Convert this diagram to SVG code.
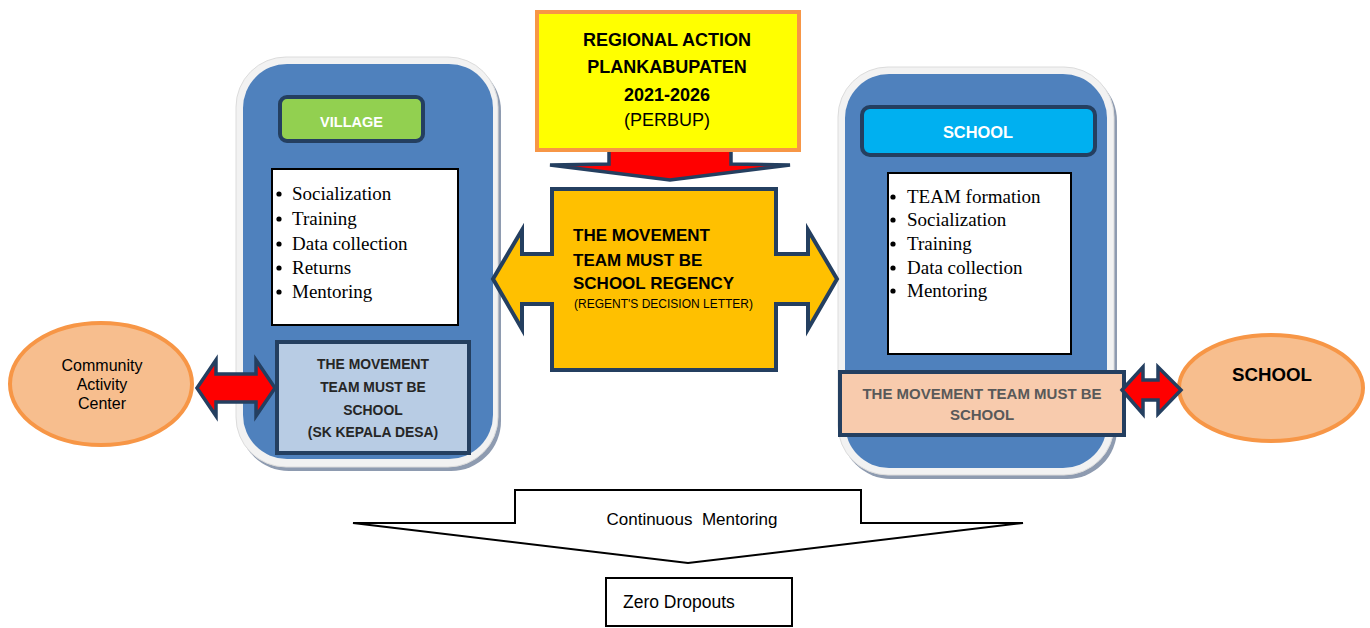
<svg xmlns="http://www.w3.org/2000/svg" width="1370" height="628" viewBox="0 0 1370 628">
  <style>
    .sans { font-family: "Liberation Sans", Arial, sans-serif; }
    .serif { font-family: "Liberation Serif", "Times New Roman", serif; font-size: 19px; fill: #000; }
    .bold { font-weight: bold; }
    .panel-shadow { fill: #8e9bb0; }
    .panel-rim { fill: #f2f2f2; stroke: #dcdcdc; stroke-width: 1; }
    .panel-body { fill: #4f81bd; }
    .navy { stroke: #243f60; stroke-width: 4; stroke-linejoin: miter; }
    .list { fill: #fff; stroke: #000; stroke-width: 2; }
    .red-arrow { fill: #ff0000; stroke: #243f60; stroke-width: 3.5; stroke-linejoin: miter; }
    .ellipse { fill: #f7be8e; stroke: #f79646; stroke-width: 4; }
    .outline { fill: #fff; stroke: #000; stroke-width: 2; }
  </style>

  <!-- Village panel -->
  <g id="village">
    <rect class="panel-shadow" x="239" y="61" width="262" height="410" rx="50"/>
    <rect class="panel-rim" x="236" y="57" width="262" height="410" rx="50"/>
    <rect class="panel-body" x="243" y="64" width="250" height="395" rx="44"/>
    <rect class="navy" x="280" y="97" width="143" height="44" rx="7" fill="#92d050"/>
    <text class="sans bold" x="351.5" y="127" font-size="14.5" fill="#fff" text-anchor="middle">VILLAGE</text>
    <rect class="list" x="272" y="169" width="186" height="156"/>
    <g class="serif">
      <circle cx="279" cy="194" r="2.6"/><text x="292" y="200">Socialization</text>
      <circle cx="279" cy="219" r="2.6"/><text x="292" y="225">Training</text>
      <circle cx="279" cy="244" r="2.6"/><text x="292" y="250">Data collection</text>
      <circle cx="279" cy="268" r="2.6"/><text x="292" y="274">Returns</text>
      <circle cx="279" cy="292" r="2.6"/><text x="292" y="298">Mentoring</text>
    </g>
  </g>

  <g id="village-team">
    <rect class="navy" x="277" y="342" width="192" height="111" fill="#b8cce4"/>
    <g class="sans bold" font-size="13.9" fill="#262626" text-anchor="middle">
      <text x="373" y="369">THE MOVEMENT</text>
      <text x="373" y="392">TEAM MUST BE</text>
      <text x="373" y="415">SCHOOL</text>
      <text x="373" y="437">(SK KEPALA DESA)</text>
    </g>
  </g>

  <!-- School panel -->
  <g id="school">
    <rect class="panel-shadow" x="841" y="71" width="276" height="408" rx="50"/>
    <rect class="panel-rim" x="838" y="67" width="276" height="408" rx="50"/>
    <rect class="panel-body" x="845" y="74" width="262" height="394" rx="44"/>
    <rect class="navy" x="862" y="107" width="233" height="48" rx="8" fill="#00b0f0"/>
    <text class="sans bold" x="978" y="138" font-size="16.4" fill="#fff" text-anchor="middle">SCHOOL</text>
    <rect class="list" x="888" y="173" width="183" height="181"/>
    <g class="serif">
      <circle cx="893" cy="197" r="2.6"/><text x="907" y="203">TEAM formation</text>
      <circle cx="893" cy="220" r="2.6"/><text x="907" y="226">Socialization</text>
      <circle cx="893" cy="244" r="2.6"/><text x="907" y="250">Training</text>
      <circle cx="893" cy="268" r="2.6"/><text x="907" y="274">Data collection</text>
      <circle cx="893" cy="291" r="2.6"/><text x="907" y="297">Mentoring</text>
    </g>
  </g>

  <g id="school-team">
    <rect class="navy" x="840" y="372" width="284" height="63" fill="#f8cbad"/>
    <g class="sans bold" font-size="15" fill="#595959" text-anchor="middle">
      <text x="982" y="399">THE MOVEMENT TEAM MUST BE</text>
      <text x="982" y="420">SCHOOL</text>
    </g>
  </g>

  <!-- Outer partners -->
  <g id="community-center">
    <ellipse class="ellipse" cx="101" cy="384" rx="91" ry="61"/>
    <g class="sans" font-size="16" fill="#000" text-anchor="middle">
      <text x="102" y="371">Community</text>
      <text x="102" y="390">Activity</text>
      <text x="102" y="409">Center</text>
    </g>
  </g>

  <g id="school-partner">
    <ellipse class="ellipse" cx="1271" cy="388" rx="92" ry="53"/>
    <text class="sans bold" x="1272" y="381" font-size="18.7" fill="#000" text-anchor="middle">SCHOOL</text>
  </g>

  <!-- Connectors -->
  <g id="connectors">
    <polygon class="red-arrow" points="609,148 731,148 731,164 790,165 670,180 550,165 609,164"/>
    <polygon class="red-arrow" points="197,388 216,360 216,374 256,374 256,360 275,388 256,416 256,402 216,402 216,416"/>
    <polygon class="red-arrow" points="1122,390 1143,367 1143,380 1158,380 1158,367 1181,390 1158,414 1158,400 1143,400 1143,414"/>
  </g>

  <!-- Regional action plan -->
  <g id="regional-plan">
    <rect x="537" y="12" width="262" height="138" fill="#ffff00" stroke="#f79646" stroke-width="4"/>
    <g class="sans" font-size="18" fill="#000" text-anchor="middle">
      <text class="bold" x="667" y="46">REGIONAL ACTION</text>
      <text class="bold" x="667" y="73">PLANKABUPATEN</text>
      <text class="bold" x="667" y="101">2021-2026</text>
      <text x="667" y="126">(PERBUP)</text>
    </g>
  </g>

  <!-- Regency team, shaped as a left-right arrow callout -->
  <g id="regency-team">
    <polygon class="navy" fill="#ffc000" points="552,189 776,189 776,254 808,254 808,230 837,279 808,329 808,304 776,304 776,370 552,370 552,304 522,304 522,329 493,279 522,230 522,254 552,254"/>
    <g class="sans bold" font-size="17" fill="#000">
      <text x="573" y="241">THE MOVEMENT</text>
      <text x="573" y="266">TEAM MUST BE</text>
      <text x="573" y="289">SCHOOL REGENCY</text>
    </g>
    <text class="sans" x="574" y="308" font-size="12" fill="#000">(REGENT'S DECISION LETTER)</text>
  </g>

  <!-- Mentoring arrow and outcome -->
  <g id="continuous-mentoring">
    <polygon class="outline" points="515,490 861,490 861,523 1023,523 688,563 353,523 515,523"/>
    <text class="sans" x="692" y="525" font-size="17" fill="#000" text-anchor="middle" xml:space="preserve">Continuous  Mentoring</text>
  </g>

  <g id="zero-dropouts">
    <rect class="outline" x="606" y="578" width="186" height="48"/>
    <text class="sans" x="623" y="608" font-size="17.5" fill="#000">Zero Dropouts</text>
  </g>
</svg>
